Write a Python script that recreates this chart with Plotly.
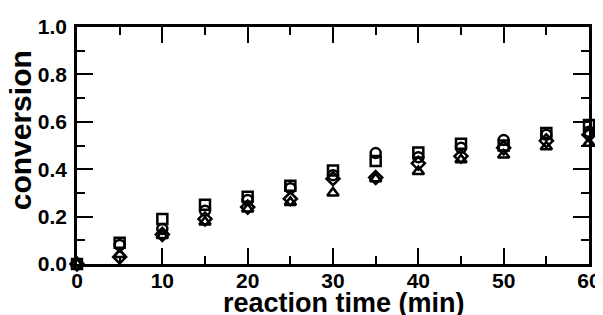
import plotly.graph_objects as go

time_min = [0, 5, 10, 15, 20, 25, 30, 35, 40, 45, 50, 55, 60]
conv_square = [0, 0.09, 0.19, 0.25, 0.284, 0.33, 0.395, 0.435, 0.47, 0.507, 0.50, 0.553, 0.587]
conv_circle = [0, 0.08, 0.148, 0.225, 0.27, 0.32, 0.375, 0.468, 0.45, 0.49, 0.523, 0.545, 0.558]
conv_triangle = [0, 0.04, 0.12, 0.177, 0.232, 0.26, 0.30, 0.36, 0.39, 0.44, 0.46, 0.495, 0.51]
conv_diamond = [0, 0.03, 0.125, 0.19, 0.24, 0.275, 0.36, 0.365, 0.425, 0.455, 0.49, 0.52, 0.545]

x_range = [0, 60]
y_range = [0, 1.0]
x_title = "reaction time (min)"
y_title = "conversion"

series = [
    (conv_square, "square-open"),
    (conv_circle, "circle-open"),
    (conv_triangle, "triangle-up-open"),
    (conv_diamond, "diamond-open"),
]

fig = go.Figure()
for vals, sym in series:
    fig.add_trace(go.Scatter(
        x=time_min, y=vals, mode="markers", cliponaxis=False,
        marker=dict(symbol=sym, size=10, color="black",
                    line=dict(color="black", width=2.5)),
        showlegend=False,
    ))
# invisible trace so the label-only axis x2 gets drawn
fig.add_trace(go.Scatter(
    x=time_min, y=conv_square, xaxis="x2", yaxis="y", mode="markers",
    marker=dict(size=1, opacity=0), hoverinfo="skip", showlegend=False,
))

font_family = "Liberation Sans, Arial, sans-serif"
tick_font = dict(family=font_family, size=21, color="black", weight="bold")
axis_common = dict(
    showline=True, linecolor="black", linewidth=2.5, mirror="ticks",
    ticks="inside", ticklen=16, tickwidth=2, tickcolor="black",
    showgrid=False, zeroline=False, automargin=False,
    tickfont=tick_font,
)

fig.update_layout(
    xaxis=dict(
        range=x_range, dtick=10, tick0=0, showticklabels=False,
        minor=dict(dtick=5, ticks="inside", ticklen=8, tickwidth=2, tickcolor="black"),
        **axis_common,
    ),
    # label-only axis on the bottom frame line
    xaxis2=dict(
        range=x_range, dtick=10, tick0=0, overlaying="x",
        anchor="free", position=0, side="bottom", ticklabelstandoff=2,
        showline=False, ticks="", showgrid=False, zeroline=False,
        automargin=False, tickfont=tick_font,
    ),
    yaxis=dict(
        range=y_range, dtick=0.2, tick0=0, tickformat=".1f", ticklabelstandoff=3,
        minor=dict(dtick=0.1, ticks="inside", ticklen=8, tickwidth=2, tickcolor="black"),
        **axis_common,
    ),
)

fig.add_annotation(
    text="<b>" + x_title + "</b>", xref="paper", yref="paper",
    x=0.521, y=-0.166, xanchor="center", yanchor="middle", showarrow=False,
    font=dict(family=font_family, size=27, color="black"),
)
fig.add_annotation(
    text="<b>" + y_title + "</b>", xref="paper", yref="paper",
    x=-0.111, y=0.565, xanchor="center", yanchor="middle", showarrow=False,
    textangle=-90,
    font=dict(family=font_family, size=30, color="black"),
)

# page body has an 8px default margin, so the figure is offset by (8, 8)
fig.update_layout(
    width=595, height=307,
    margin=dict(l=69, r=14, t=19, b=51),
    paper_bgcolor="white", plot_bgcolor="white",
)

fig.write_html("out.html")
